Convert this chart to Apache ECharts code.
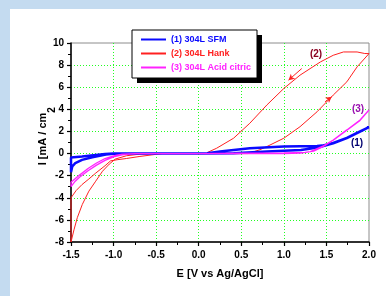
<!DOCTYPE html>
<html>
<head>
<meta charset="utf-8">
<script src="https://cdn.jsdelivr.net/npm/echarts@6/dist/echarts.min.js"></script>
<style>
  html, body { margin: 0; padding: 0; background: #c4dbf0; }
  #panel { position: absolute; left: 10px; top: 9px; width: 376px; height: 287px; background: #fff; }
  #main { position: absolute; left: 0; top: 0; width: 386px; height: 296px; }
</style>
</head>
<body>
<div id="panel"></div>
<div id="main"></div>
<script>
// E [V] and I [mA/cm2], in scan order
const sfmE = [0.10, -0.30, -0.90, -1.00, -1.09, -1.25, -1.37, -1.45, -1.485, -1.50, -1.50, -1.37, -1.21, -1.10, -1.00, -0.50, 0.00, 0.41, 0.80, 1.20, 1.40, 1.58, 1.74, 1.895, 2.00, 1.895, 1.74, 1.58, 1.45, 1.39, 1.00, 0.60, 0.25, 0.10]
const sfmI = [0.02, 0.00, 0.00, -0.02, -0.09, -0.33, -0.57, -0.87, -1.17, -1.70, -0.36, -0.27, -0.12, -0.05, 0.00, 0.00, 0.00, 0.03, 0.18, 0.33, 0.55, 0.93, 1.39, 1.98, 2.38, 2.00, 1.42, 0.96, 0.72, 0.69, 0.63, 0.48, 0.18, 0.02]

const hankE = [0.10, -0.20, -0.43, -0.55, -0.70, -0.85, -0.95, -1.035, -1.10, -1.21, -1.29, -1.37, -1.44, -1.50, -1.50, -1.465, -1.426, -1.367, -1.29, -1.21, -1.13, -1.05, -0.98, -0.85, -0.70, -0.55, 0.00, 0.58, 0.64, 0.72, 0.80, 1.00, 1.19, 1.39, 1.58, 1.74, 1.86, 2.00, 1.95, 1.86, 1.70, 1.58, 1.43, 1.19, 1.00, 0.80, 0.60, 0.41, 0.21, 0.10]
const hankI = [0.00, 0.00, 0.00, -0.12, -0.27, -0.45, -0.55, -0.66, -1.10, -1.77, -2.30, -2.80, -3.35, -4.00, -8.00, -6.90, -5.80, -4.60, -3.40, -2.50, -1.60, -0.95, -0.50, -0.20, -0.06, 0.00, 0.00, 0.00, 0.15, 0.35, 0.63, 1.39, 2.43, 3.78, 5.29, 6.49, 7.84, 9.04, 9.05, 9.19, 9.19, 8.89, 8.29, 7.09, 5.89, 4.39, 2.74, 1.39, 0.48, 0.09]

const citE = [0.00, -0.50, -0.70, -0.80, -0.90, -1.00, -1.10, -1.20, -1.30, -1.40, -1.45, -1.50, -1.50, -1.40, -1.30, -1.20, -1.10, -1.00, -0.90, -0.75, 0.00, 1.00, 1.20, 1.31, 1.465, 1.58, 1.74, 1.895, 2.00, 1.895, 1.74, 1.58, 1.46, 1.35, 1.25, 1.00, 0.50, 0.00]
const citI = [0.00, 0.00, 0.00, -0.03, -0.12, -0.30, -0.62, -1.05, -1.55, -2.15, -2.50, -3.00, -2.60, -1.95, -1.35, -0.85, -0.45, -0.20, -0.06, 0.00, 0.00, 0.00, 0.03, 0.18, 0.69, 1.23, 2.14, 3.04, 3.94, 3.00, 2.10, 1.20, 0.62, 0.22, 0.10, 0.06, 0.03, 0.00]

// scan-direction arrows on the Hank loop: [from, to]
const hankArrows = [[[1.21, 7.69], [1.055, 6.64]], [[1.484, 4.68], [1.562, 5.14]]]

const seriesNames = ['(1) 304L SFM', '(2) 304L Hank', '(3) 304L Acid citric']
const seriesColors = ['#0a0aff', '#ff2020', '#ff22ff']

const zip = (xs, ys) => xs.map((x, i) => [x, ys[i]])

const chart = echarts.init(document.getElementById('main'))

const boldFont = 'bold 10px "Liberation Sans", Arial, sans-serif'
const gridLine = { show: true, showMinLine: false, showMaxLine: false, lineStyle: { color: '#22ff22', type: [1, 2], width: 1 } }

let options = {
  animation: false,
  grid: { left: 71, right: 17, top: 43, bottom: 54, show: true, borderColor: '#8c8c8c', borderWidth: 1 },
  legend: {
    data: seriesNames.map((n, i) => ({ name: n, textStyle: { color: seriesColors[i] } })),
    orient: 'vertical',
    left: 132, top: 30,
    padding: [5, 6, 4, 8],
    itemWidth: 25, itemHeight: 10, itemGap: 5,
    itemStyle: { opacity: 0 },
    z: 10,
    textStyle: { fontFamily: '"Liberation Sans", Arial', fontWeight: 'bold', fontSize: 9 }
  },
  xAxis: {
    type: 'value', min: -1.5, max: 2.0, interval: 0.5,
    name: 'E [V vs Ag/AgCl]', nameLocation: 'middle', nameGap: 26,
    nameTextStyle: { color: '#000', fontFamily: '"Liberation Sans", Arial', fontWeight: 'bold', fontSize: 11 },
    axisLine: { onZero: false, lineStyle: { color: '#000', width: 1.5 } },
    axisTick: { length: 4, lineStyle: { color: '#000', width: 1.2 } },
    minorTick: { show: true, splitNumber: 2, length: 3, lineStyle: { color: '#000' } },
    axisLabel: { margin: 8, color: '#000', fontFamily: '"Liberation Sans", Arial', fontWeight: 'bold', fontSize: 10, formatter: v => v.toFixed(1) },
    splitLine: gridLine
  },
  yAxis: {
    type: 'value', min: -8, max: 10, interval: 2,
    axisLine: { onZero: false, lineStyle: { color: '#000', width: 1.5 } },
    axisTick: { length: 4, lineStyle: { color: '#000', width: 1.2 } },
    minorTick: { show: true, splitNumber: 2, length: 3, lineStyle: { color: '#000' } },
    axisLabel: { margin: 7, color: '#000', fontFamily: '"Liberation Sans", Arial', fontWeight: 'bold', fontSize: 10 },
    splitLine: gridLine
  },
  graphic: [
    // legend box with its drop shadow
    { type: 'rect', z: 5, shape: { x: 137, y: 35, width: 125, height: 48 }, style: { fill: '#000' } },
    { type: 'rect', z: 6, shape: { x: 132, y: 30, width: 125, height: 48 }, style: { fill: '#fff', stroke: '#000', lineWidth: 1 } },
    // y axis title
    { type: 'text', z: 10, x: 43, y: 139, rotation: Math.PI / 2,
      style: { text: 'I [mA / cm', font: 'bold 11px "Liberation Sans", Arial', fill: '#000', align: 'center', verticalAlign: 'middle' } },
    { type: 'text', z: 10, x: 52, y: 110, rotation: Math.PI / 2,
      style: { text: '2', font: 'bold 10px "Liberation Sans", Arial', fill: '#000', align: 'center', verticalAlign: 'middle' } },
    // curve tags
    { type: 'text', z: 10, x: 316, y: 54, style: { text: '(2)', font: boldFont, fill: '#8a0020', align: 'center', verticalAlign: 'middle' } },
    { type: 'text', z: 10, x: 358, y: 109, style: { text: '(3)', font: boldFont, fill: '#9a10b0', align: 'center', verticalAlign: 'middle' } },
    { type: 'text', z: 10, x: 357, y: 143, style: { text: '(1)', font: boldFont, fill: '#000070', align: 'center', verticalAlign: 'middle' } }
  ],
  series: [
    {
      name: seriesNames[1], type: 'line', data: zip(hankE, hankI), showSymbol: false, symbol: 'none',
      lineStyle: { color: seriesColors[1], width: 1 }, itemStyle: { color: seriesColors[1] },
      markLine: {
        silent: true, symbol: ['none', 'arrow'], symbolSize: [5, 6], label: { show: false },
        lineStyle: { color: seriesColors[1], width: 1, type: 'solid' },
        data: hankArrows.map(a => [{ coord: a[0] }, { coord: a[1] }])
      }
    },
    {
      name: seriesNames[0], type: 'line', data: zip(sfmE, sfmI), showSymbol: false, symbol: 'none',
      lineStyle: { color: seriesColors[0], width: 2.5 }, itemStyle: { color: seriesColors[0] }
    },
    {
      name: seriesNames[2], type: 'line', data: zip(citE, citI), showSymbol: false, symbol: 'none',
      lineStyle: { color: seriesColors[2], width: 1.3 }, itemStyle: { color: seriesColors[2] }
    }
  ]
}

chart.setOption(options)
window.addEventListener('resize', function () {
  chart.resize()
})
</script>
</body>
</html>
